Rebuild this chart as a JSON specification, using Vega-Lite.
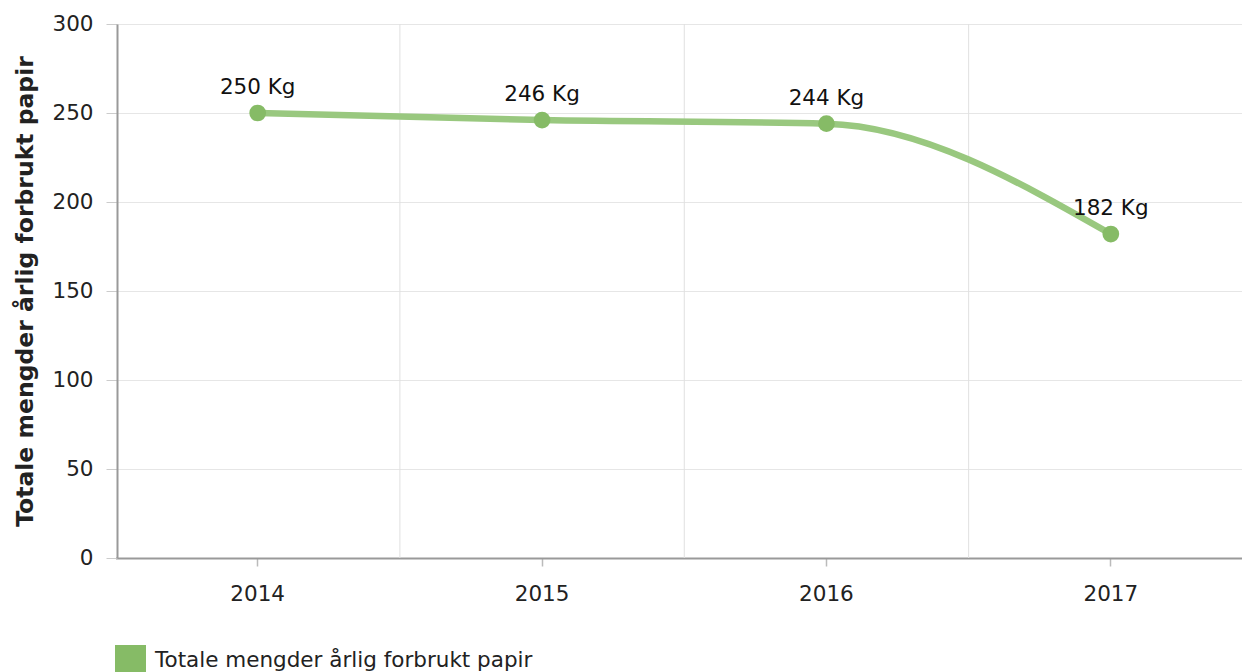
{
  "$schema": "https://vega.github.io/schema/vega-lite/v6.json",
  "width": 1125,
  "height": 534,
  "autosize": {"type": "none"},
  "padding": {"left": 117, "top": 24, "right": 0, "bottom": 114},
  "background": "white",
  "config": {
    "view": {"stroke": null},
    "font": "DejaVu Sans",
    "axis": {"labelColor": "#222", "titleColor": "#222"}
  },
  "data": {
    "values": [
      {"year": "2014", "value": 250, "label": "250 Kg", "series": "Totale mengder årlig forbrukt papir"},
      {"year": "2015", "value": 246, "label": "246 Kg", "series": "Totale mengder årlig forbrukt papir"},
      {"year": "2016", "value": 244, "label": "244 Kg", "series": "Totale mengder årlig forbrukt papir"},
      {"year": "2017", "value": 182, "label": "182 Kg", "series": "Totale mengder årlig forbrukt papir"}
    ]
  },
  "encoding": {
    "x": {
      "field": "year",
      "type": "ordinal",
      "scale": {"type": "band", "range": [-1.5, 1136], "paddingInner": 0, "paddingOuter": 0},
      "axis": {
        "title": null,
        "grid": false,
        "labelAngle": 0,
        "labelFontSize": 21.5,
        "labelPadding": 17,
        "tickSize": 8,
        "tickColor": "#bbbbbb",
        "tickWidth": 1.5,
        "domainColor": "#999999",
        "domainWidth": 2
      }
    },
    "y": {
      "field": "value",
      "type": "quantitative",
      "scale": {"domain": [0, 300], "nice": false},
      "axis": {
        "title": "Totale mengder årlig forbrukt papir",
        "titleFontSize": 23.5,
        "titleFontWeight": "bold",
        "titlePadding": 14,
        "values": [0, 50, 100, 150, 200, 250, 300],
        "labelFontSize": 21.5,
        "labelPadding": 13,
        "tickSize": 11,
        "tickColor": "#cccccc",
        "gridColor": "#e6e6e6",
        "domainColor": "#999999",
        "domainWidth": 2
      }
    }
  },
  "layer": [
    {
      "transform": [{"filter": "datum.year != '2014'"}],
      "mark": {"type": "rule", "color": "#e0e0e0", "strokeWidth": 1},
      "encoding": {
        "x": {"field": "year", "type": "ordinal", "bandPosition": 0},
        "y": null
      }
    },
    {
      "mark": {"type": "line", "interpolate": "monotone", "color": "#99c87f", "strokeWidth": 6.5}
    },
    {
      "mark": {"type": "circle", "size": 280, "opacity": 1},
      "encoding": {
        "color": {
          "field": "series",
          "type": "nominal",
          "scale": {"range": ["#86bb66"]},
          "legend": {
            "title": null,
            "orient": "none",
            "legendX": -2,
            "legendY": 621,
            "padding": 0,
            "symbolType": "square",
            "symbolSize": 961,
            "symbolStrokeWidth": 0,
            "symbolOpacity": 1,
            "labelFontSize": 21.5,
            "labelLimit": 0,
            "labelOffset": 9,
            "labelColor": "#222"
          }
        }
      }
    },
    {
      "mark": {"type": "text", "dy": -19, "baseline": "alphabetic", "fontSize": 21.5, "color": "#111"},
      "encoding": {"text": {"field": "label"}}
    }
  ]
}
